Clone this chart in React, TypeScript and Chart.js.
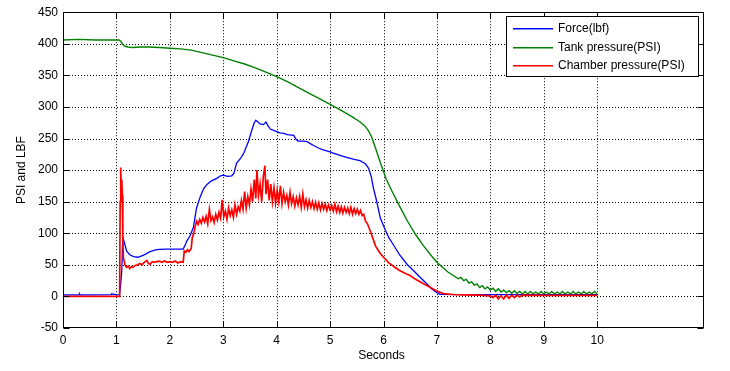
import React, { useEffect, useRef } from "react";
import { Chart, registerables } from "chart.js";

Chart.register(...registerables);

const xTickValues = [0, 1, 2, 3, 4, 5, 6, 7, 8, 9, 10];
const yTickValues = [-50, 0, 50, 100, 150, 200, 250, 300, 350, 400, 450];
const seriesLabels = ["Force(lbf)", "Tank pressure(PSI)", "Chamber pressure(PSI)"];
const seriesColors = ["#0000ff", "#008000", "#ff0000"];
const xAxisTitle = "Seconds";
const yAxisTitle = "PSI and LBF";

// Force (lbf): [seconds, value]
const forceData: [number, number][] = [
  [0, 2.5], [0.3, 2.5], [0.31, 4], [0.32, 2.5], [0.5, 2.5], [0.9, 3], [0.91, 4], [1.0, 2.5], [1.06, 3],
  [1.08, 20], [1.1, 40], [1.12, 93], [1.15, 85], [1.19, 72], [1.25, 66], [1.32, 63], [1.4, 62],
  [1.5, 65], [1.63, 71], [1.75, 74], [1.9, 75], [2.1, 75], [2.25, 75], [2.28, 80], [2.32, 88],
  [2.38, 96], [2.44, 109], [2.5, 140], [2.57, 158], [2.63, 170], [2.69, 177], [2.78, 183],
  [2.88, 187], [2.95, 191], [3.0, 192], [3.08, 190], [3.16, 191], [3.2, 195], [3.25, 211],
  [3.32, 218], [3.38, 226], [3.47, 245], [3.53, 262], [3.58, 275], [3.61, 279], [3.65, 276],
  [3.69, 273], [3.75, 272], [3.8, 276], [3.84, 270], [3.88, 265], [4.0, 261], [4.06, 259],
  [4.13, 258], [4.2, 256], [4.32, 255], [4.36, 249], [4.4, 246], [4.5, 246], [4.57, 245],
  [4.63, 242], [4.69, 239], [4.78, 235], [4.87, 232], [5.0, 229], [5.06, 227], [5.2, 223],
  [5.31, 220], [5.45, 217], [5.56, 215], [5.62, 212], [5.66, 210], [5.72, 203], [5.77, 190],
  [5.81, 172], [5.86, 155], [5.9, 140], [5.94, 124], [6.03, 106], [6.1, 93], [6.19, 81],
  [6.3, 66], [6.44, 51], [6.56, 41], [6.69, 30], [6.81, 20], [6.9, 12], [7.0, 6], [7.06, 3.3],
  [7.5, 3], [8.0, 3], [8.5, 3], [9.0, 3], [9.5, 3], [10.0, 3],
];

// Tank pressure (PSI)
const tankData: [number, number][] = [
  [0, 406], [0.3, 407], [0.6, 406], [1.0, 406], [1.05, 406], [1.08, 404], [1.12, 399],
  [1.16, 396], [1.22, 395], [1.3, 394], [1.45, 395], [1.6, 395], [1.8, 394], [2.0, 393],
  [2.2, 392], [2.4, 390], [2.6, 386], [2.8, 382], [3.0, 378], [3.2, 373], [3.4, 368],
  [3.6, 362], [3.8, 355], [4.0, 348], [4.2, 340], [4.4, 331], [4.6, 322], [4.8, 313],
  [5.0, 304], [5.2, 295], [5.4, 285], [5.55, 277], [5.65, 270], [5.72, 262], [5.78, 252],
  [5.85, 235], [5.94, 212], [6.05, 186], [6.15, 168], [6.3, 143], [6.45, 119], [6.6, 98],
  [6.75, 80], [6.9, 64], [7.0, 54], [7.2, 39], [7.4, 28], [7.45, 30], [7.5, 25], [7.55, 27],
  [7.6, 21], [7.65, 23], [7.7, 18], [7.75, 20], [7.8, 14], [7.85, 17], [7.9, 12], [7.95, 15],
  [8.0, 10], [8.05, 13], [8.1, 8], [8.15, 12], [8.2, 7], [8.25, 10], [8.3, 6], [8.35, 9],
  [8.4, 5], [8.45, 9], [8.5, 5], [8.55, 8], [8.6, 4], [8.65, 8], [8.7, 4], [8.75, 8],
  [8.8, 4], [8.85, 7], [8.9, 4], [8.95, 8], [9.0, 4], [9.05, 7], [9.1, 4], [9.15, 8],
  [9.2, 4], [9.25, 7], [9.3, 4], [9.35, 8], [9.4, 4], [9.45, 7], [9.5, 4], [9.55, 8],
  [9.6, 4], [9.65, 7], [9.7, 4], [9.75, 8], [9.8, 4], [9.85, 7], [9.9, 4], [9.95, 8], [10.0, 4],
];

// Chamber pressure (PSI)
const chamberData: [number, number][] = [
  [0, 0], [1.0, 0], [1.06, 0], [1.07, 150], [1.08, 204], [1.09, 170], [1.1, 185], [1.11, 160],
  [1.12, 95], [1.13, 62], [1.16, 50], [1.19, 46], [1.22, 48], [1.25, 44], [1.28, 47], [1.31, 46],
  [1.35, 49], [1.4, 50], [1.44, 52], [1.48, 50], [1.52, 54], [1.57, 57], [1.6, 52], [1.63, 51],
  [1.67, 55], [1.7, 54], [1.75, 55], [1.8, 56], [1.85, 54], [1.9, 56], [1.95, 54], [2.0, 55],
  [2.05, 54], [2.1, 56], [2.15, 53], [2.2, 55], [2.25, 54], [2.27, 72], [2.3, 70], [2.33, 74],
  [2.36, 71], [2.4, 76], [2.42, 93], [2.45, 100], [2.47, 109], [2.5, 119],
  [2.53, 114], [2.56, 122], [2.59, 116], [2.62, 125], [2.65, 118], [2.68, 127], [2.71, 115],
  [2.74, 138], [2.77, 120], [2.8, 126], [2.83, 117], [2.86, 130], [2.89, 121], [2.92, 133],
  [2.95, 124], [2.98, 153], [3.01, 126], [3.04, 135], [3.07, 122], [3.1, 140], [3.13, 128],
  [3.16, 137], [3.19, 125], [3.22, 145], [3.25, 130], [3.28, 142], [3.31, 135], [3.34, 152],
  [3.37, 138], [3.4, 166], [3.43, 140], [3.46, 158], [3.49, 145], [3.52, 170], [3.55, 150],
  [3.58, 185], [3.61, 155], [3.63, 200], [3.66, 160], [3.69, 178], [3.72, 150], [3.75, 190],
  [3.78, 207], [3.8, 162], [3.83, 185], [3.86, 152], [3.89, 178], [3.92, 150], [3.95, 172],
  [3.98, 148], [4.01, 168], [4.04, 150], [4.07, 175], [4.1, 147], [4.13, 165], [4.16, 150],
  [4.19, 160], [4.22, 145], [4.25, 165], [4.28, 147], [4.31, 158], [4.34, 143], [4.37, 156],
  [4.4, 145], [4.43, 158], [4.46, 141], [4.49, 162], [4.52, 142], [4.55, 153], [4.58, 140],
  [4.61, 152], [4.64, 141], [4.67, 150], [4.7, 139], [4.73, 149], [4.76, 138], [4.79, 148],
  [4.82, 137], [4.85, 147], [4.88, 138], [4.91, 146], [4.94, 136], [4.97, 145], [5.0, 137],
  [5.03, 144], [5.06, 135], [5.09, 146], [5.12, 134], [5.15, 143], [5.18, 133], [5.21, 142],
  [5.24, 132], [5.27, 141], [5.3, 133], [5.33, 140], [5.36, 131], [5.39, 141], [5.42, 130],
  [5.45, 139], [5.48, 131], [5.51, 138], [5.54, 130], [5.57, 136], [5.6, 128], [5.63, 130],
  [5.66, 120], [5.7, 115], [5.75, 104], [5.8, 92], [5.85, 80], [5.9, 73], [5.94, 68],
  [6.0, 62], [6.1, 53], [6.2, 47], [6.3, 41], [6.44, 35], [6.5, 33], [6.6, 27], [6.75, 20],
  [6.87, 14.7], [7.0, 8.5], [7.12, 4.5], [7.3, 3], [7.5, 2.5], [7.8, 2], [8.0, 1], [8.05, -2],
  [8.1, 2], [8.15, -4], [8.2, 1], [8.25, -4], [8.3, 2], [8.35, -3], [8.4, 2], [8.45, -2],
  [8.5, 2], [8.55, -1], [8.6, 2], [9.0, 1.5], [9.5, 1.5], [10.0, 1.5],
];

const FONT = '"Liberation Sans", Arial, Helvetica, sans-serif';

const framePlugin = {
  id: "matlabFrame",
  beforeDatasetsDraw(chart: any) {
    const { ctx, chartArea: a, scales } = chart;
    const xs = scales.x;
    const ys = scales.y;
    ctx.save();
    ctx.strokeStyle = "#000";
    ctx.lineWidth = 1;
    ctx.setLineDash([1, 2]);
    for (const v of xTickValues) {
      if (v === xTickValues[0]) continue;
      const px = Math.round(xs.getPixelForValue(v)) + 0.5;
      ctx.beginPath();
      ctx.moveTo(px, a.top);
      ctx.lineTo(px, a.bottom);
      ctx.stroke();
    }
    for (const v of yTickValues) {
      if (v === yTickValues[0] || v === yTickValues[yTickValues.length - 1]) continue;
      const py = Math.round(ys.getPixelForValue(v)) + 0.5;
      ctx.beginPath();
      ctx.moveTo(a.left, py);
      ctx.lineTo(a.right, py);
      ctx.stroke();
    }
    ctx.restore();
  },
  afterDatasetsDraw(chart: any) {
    const { ctx, chartArea: a, scales } = chart;
    const xs = scales.x;
    const ys = scales.y;
    ctx.save();
    ctx.strokeStyle = "#000";
    ctx.lineWidth = 1;
    ctx.setLineDash([]);
    const L = Math.round(a.left) + 0.5;
    const R = Math.round(a.right) - 0.5;
    const T = Math.round(a.top) + 0.5;
    const B = Math.round(a.bottom) - 0.5;
    ctx.strokeRect(L, T, R - L, B - T);
    const tl = 6;
    ctx.beginPath();
    for (const v of xTickValues) {
      const px = Math.round(xs.getPixelForValue(v)) + 0.5;
      ctx.moveTo(px, B);
      ctx.lineTo(px, B - tl);
      ctx.moveTo(px, T);
      ctx.lineTo(px, T + tl);
    }
    for (const v of yTickValues) {
      const py = Math.round(ys.getPixelForValue(v)) + 0.5;
      ctx.moveTo(L, py);
      ctx.lineTo(L + tl, py);
      ctx.moveTo(R, py);
      ctx.lineTo(R - tl, py);
    }
    ctx.stroke();

    // legend
    const lx = 506.5, ly = 16.5, lw = 192, lh = 60;
    ctx.fillStyle = "#fff";
    ctx.fillRect(lx, ly, lw, lh);
    ctx.strokeStyle = "#000";
    ctx.strokeRect(lx, ly, lw, lh);
    ctx.font = `12px ${FONT}`;
    ctx.textBaseline = "middle";
    ctx.textAlign = "left";
    const rows = [28, 47, 65];
    for (let i = 0; i < seriesLabels.length; i++) {
      ctx.fillStyle = seriesColors[i];
      ctx.fillRect(513, rows[i], 40, 1.5);
      ctx.fillStyle = "#000";
      ctx.fillText(seriesLabels[i], 558, rows[i] + 0.5);
    }

    // axis titles
    ctx.fillStyle = "#000";
    ctx.textAlign = "center";
    ctx.textBaseline = "middle";
    ctx.fillText(xAxisTitle, (a.left + a.right) / 2 - 2, 356);
    ctx.save();
    ctx.translate(22, (a.top + a.bottom) / 2);
    ctx.rotate(-Math.PI / 2);
    ctx.fillText(yAxisTitle, 0, 0);
    ctx.restore();
    ctx.restore();
  },
};

export default function App() {
  const canvasRef = useRef<HTMLCanvasElement | null>(null);

  useEffect(() => {
    document.body.style.margin = "0";
    const canvas = canvasRef.current;
    if (!canvas) return;
    const toXY = (arr: [number, number][]) => arr.map(([x, y]) => ({ x, y }));
    const chart = new Chart(canvas, {
      type: "line",
      data: {
        datasets: [
          {
            label: seriesLabels[0],
            data: toXY(forceData),
            borderColor: seriesColors[0],
            borderWidth: 1.3,
            pointRadius: 0,
            tension: 0,
            order: 3,
          },
          {
            label: seriesLabels[1],
            data: toXY(tankData),
            borderColor: seriesColors[1],
            borderWidth: 1.4,
            pointRadius: 0,
            tension: 0,
            order: 2,
          },
          {
            label: seriesLabels[2],
            data: toXY(chamberData),
            borderColor: seriesColors[2],
            borderWidth: 1.7,
            pointRadius: 0,
            tension: 0,
            order: 1,
          },
        ],
      },
      options: {
        animation: false,
        responsive: false,
        devicePixelRatio: 1,
        events: [],
        layout: { padding: { left: 0, right: 26, top: 9, bottom: 0 } },
        plugins: {
          legend: { display: false },
          tooltip: { enabled: false },
          title: { display: false },
        },
        scales: {
          x: {
            type: "linear",
            min: 0,
            max: 12,
            grid: { display: false, drawTicks: false },
            border: { display: false },
            afterBuildTicks: (scale: any) => {
              scale.ticks = xTickValues.map((v) => ({ value: v }));
            },
            afterFit: (scale: any) => {
              scale.height = 43;
            },
            ticks: {
              autoSkip: false,
              maxRotation: 0,
              padding: 5,
              color: "#000",
              font: { family: FONT, size: 12 },
              callback: (v: any) => String(v),
            },
          },
          y: {
            type: "linear",
            min: -50,
            max: 450,
            grid: { display: false, drawTicks: false },
            border: { display: false },
            afterBuildTicks: (scale: any) => {
              scale.ticks = yTickValues.map((v) => ({ value: v }));
            },
            afterFit: (scale: any) => {
              scale.width = 63;
            },
            ticks: {
              autoSkip: false,
              padding: 5,
              color: "#000",
              font: { family: FONT, size: 12 },
              callback: (v: any) => String(v),
            },
          },
        },
      },
      plugins: [framePlugin],
    } as any);
    return () => chart.destroy();
  }, []);

  return (
    <div style={{ width: 730, height: 371, background: "#fff" }}>
      <canvas ref={canvasRef} width={730} height={371} style={{ display: "block" }} />
    </div>
  );
}
